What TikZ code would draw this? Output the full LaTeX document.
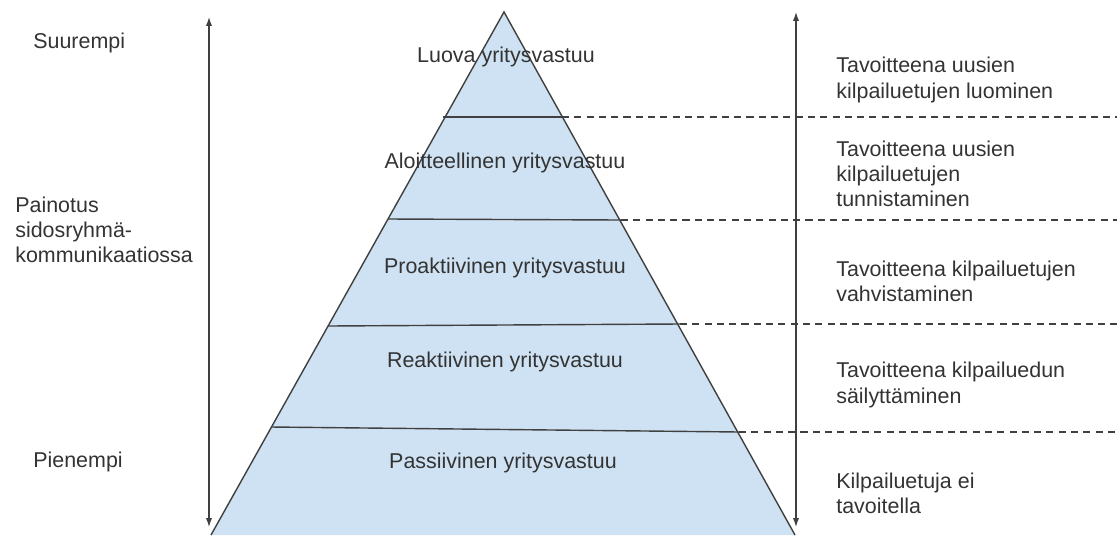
\documentclass[tikz,border=0pt]{standalone}
\usepackage{fontspec}
\setmainfont{Liberation Sans}
\usetikzlibrary{arrows.meta}
\definecolor{pyrfill}{HTML}{CFE2F3}
\definecolor{inkgray}{HTML}{333333}
\definecolor{linegray}{HTML}{404040}
\begin{document}
\begin{tikzpicture}[x=0.02cm, y=-0.02cm,
    every node/.style={inner sep=0pt, text=inkgray, font=\fontsize{12.2}{14.4}\selectfont},
    level/.style={draw=linegray, line width=0.8pt},
    guide/.style={draw=linegray, line width=0.6pt, dashed, dash pattern=on 4pt off 3pt},
    emphaxis/.style={draw=linegray, line width=0.7pt, {Latex[length=5pt,width=3.5pt]}-{Latex[length=5pt,width=3.5pt]}},
    lefttext/.style={anchor=west, align=left}]
            \useasboundingbox (0,0) rectangle (1117,535);

            % Pyramid
            \coordinate (top) at (504,12);
            \coordinate (bl) at (211,535);
            \coordinate (br) at (795,535);
            \fill[pyrfill] (top) -- (br) -- (bl) -- cycle;
            \draw[level] (bl) -- (top) -- (br);

            % Level borders
            \coordinate (L1) at (443,117);
            \coordinate (R1) at (562,117);
            \coordinate (L2) at (388,219);
            \coordinate (R2) at (621,220);
            \coordinate (L3) at (328,326);
            \coordinate (R3) at (680,324);
            \coordinate (L4) at (271,427);
            \coordinate (R4) at (739,432);
            \draw[level] (L1) -- (R1);
            \draw[level] (L2) -- (R2);
            \draw[level] (L3) -- (R3);
            \draw[level] (L4) -- (R4);

            % Dashed guides to the right edge
            \coordinate (E1) at (1117,117);
            \coordinate (E2) at (1117,220);
            \coordinate (E3) at (1117,324);
            \coordinate (E4) at (1117,432);
            \draw[guide] (R1) -- (E1);
            \draw[guide] (R2) -- (E2);
            \draw[guide] (R3) -- (E3);
            \draw[guide] (R4) -- (E4);

            % Level labels
            \node (luova) at (506,57) {Luova yritysvastuu};
            \node (aloit) at (505,163) {Aloitteellinen yritysvastuu};
            \node (proak) at (505,268) {Proaktiivinen yritysvastuu};
            \node (reakt) at (505,362) {Reaktiivinen yritysvastuu};
            \node (passi) at (503,463) {Passiivinen yritysvastuu};

            % Vertical axes
            \coordinate (LT) at (209,17);
            \coordinate (LB) at (209,527);
            \coordinate (RT) at (796,12);
            \coordinate (RB) at (796,527);
            \draw[emphaxis] (LB) -- (LT);
            \draw[emphaxis] (RB) -- (RT);

            % Left column
            \node[lefttext] (suur) at (33,43) {Suurempi};
            \node[lefttext] (paino) at (15,230) {Painotus\\sidosryhmä-\\kommunikaatiossa};
            \node[lefttext] (pien) at (33,462) {Pienempi};

            % Right column
            \node[lefttext] (tav1) at (836,80) {Tavoitteena uusien\\kilpailuetujen luominen};
            \node[lefttext] (tav2) at (836,174) {Tavoitteena uusien\\kilpailuetujen\\tunnistaminen};
            \node[lefttext] (tav3) at (836,281) {Tavoitteena kilpailuetujen\\vahvistaminen};
            \node[lefttext] (tav4) at (836,385) {Tavoitteena kilpailuedun\\säilyttäminen};
            \node[lefttext] (tav5) at (836,493) {Kilpailuetuja ei\\tavoitella};
        \end{tikzpicture}
\end{document}
